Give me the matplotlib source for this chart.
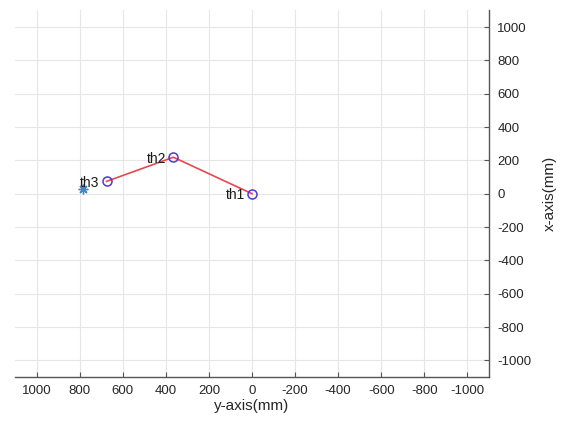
import numpy as np
import matplotlib.pyplot as plt

plt.rcParams['font.family'] = ['Liberation Sans', 'DejaVu Sans']
plt.rcParams['axes.unicode_minus'] = False

# joint positions (horizontal = y-axis, vertical = x-axis), mm
joint_y = [0, 365, 675]
joint_x = [0, 219, 74]
joint_names = ['th1', 'th2', 'th3']

# end-effector target
target_y = [785]
target_x = [30]

ticks = np.arange(-1000, 1001, 200)

fig = plt.figure(figsize=(5.65, 4.23), dpi=100)
ax = fig.add_axes([0.0265, 0.1087, 0.839, 0.8667])

# asterisk marker (8 spokes)
ax.plot(target_y, target_x, linestyle='none', marker=(8, 2, 0), color='#3a8cc8',
        markersize=7, markeredgewidth=1.0, zorder=3)
ax.plot(joint_y, joint_x, '-', color='#e8474f', linewidth=1.2, zorder=3)
ax.plot(joint_y, joint_x, 'o', markerfacecolor='none', markeredgecolor='#5038d8',
        markersize=6.5, markeredgewidth=1.1, zorder=4)

for yy, xx, name in zip(joint_y, joint_x, joint_names):
    ax.annotate(name, (yy, xx), xytext=(-5, -1), textcoords='offset points',
                ha='right', va='center', fontsize=10, color='#1a1a1a', zorder=5)

ax.set_xlim(1100, -1100)
ax.set_ylim(-1100, 1100)
ax.set_xticks(ticks)
ax.set_yticks(ticks)
ax.grid(True, color='#e6e6e6', linewidth=0.8)
ax.set_axisbelow(True)

ax.yaxis.tick_right()
ax.yaxis.set_label_position('right')
ax.spines['left'].set_visible(False)
ax.spines['top'].set_visible(False)
for s in ('bottom', 'right'):
    ax.spines[s].set_color('#555555')
    ax.spines[s].set_linewidth(1.0)
ax.tick_params(direction='in', length=3.5, width=0.8, colors='#555555',
               labelcolor='#262626', labelsize=9.5, pad=6)

ax.set_xlabel('y-axis(mm)', fontsize=11, color='#262626', labelpad=1)
ax.set_ylabel('x-axis(mm)', fontsize=11, color='#262626', labelpad=8)

fig.savefig('out.png', dpi=100)
